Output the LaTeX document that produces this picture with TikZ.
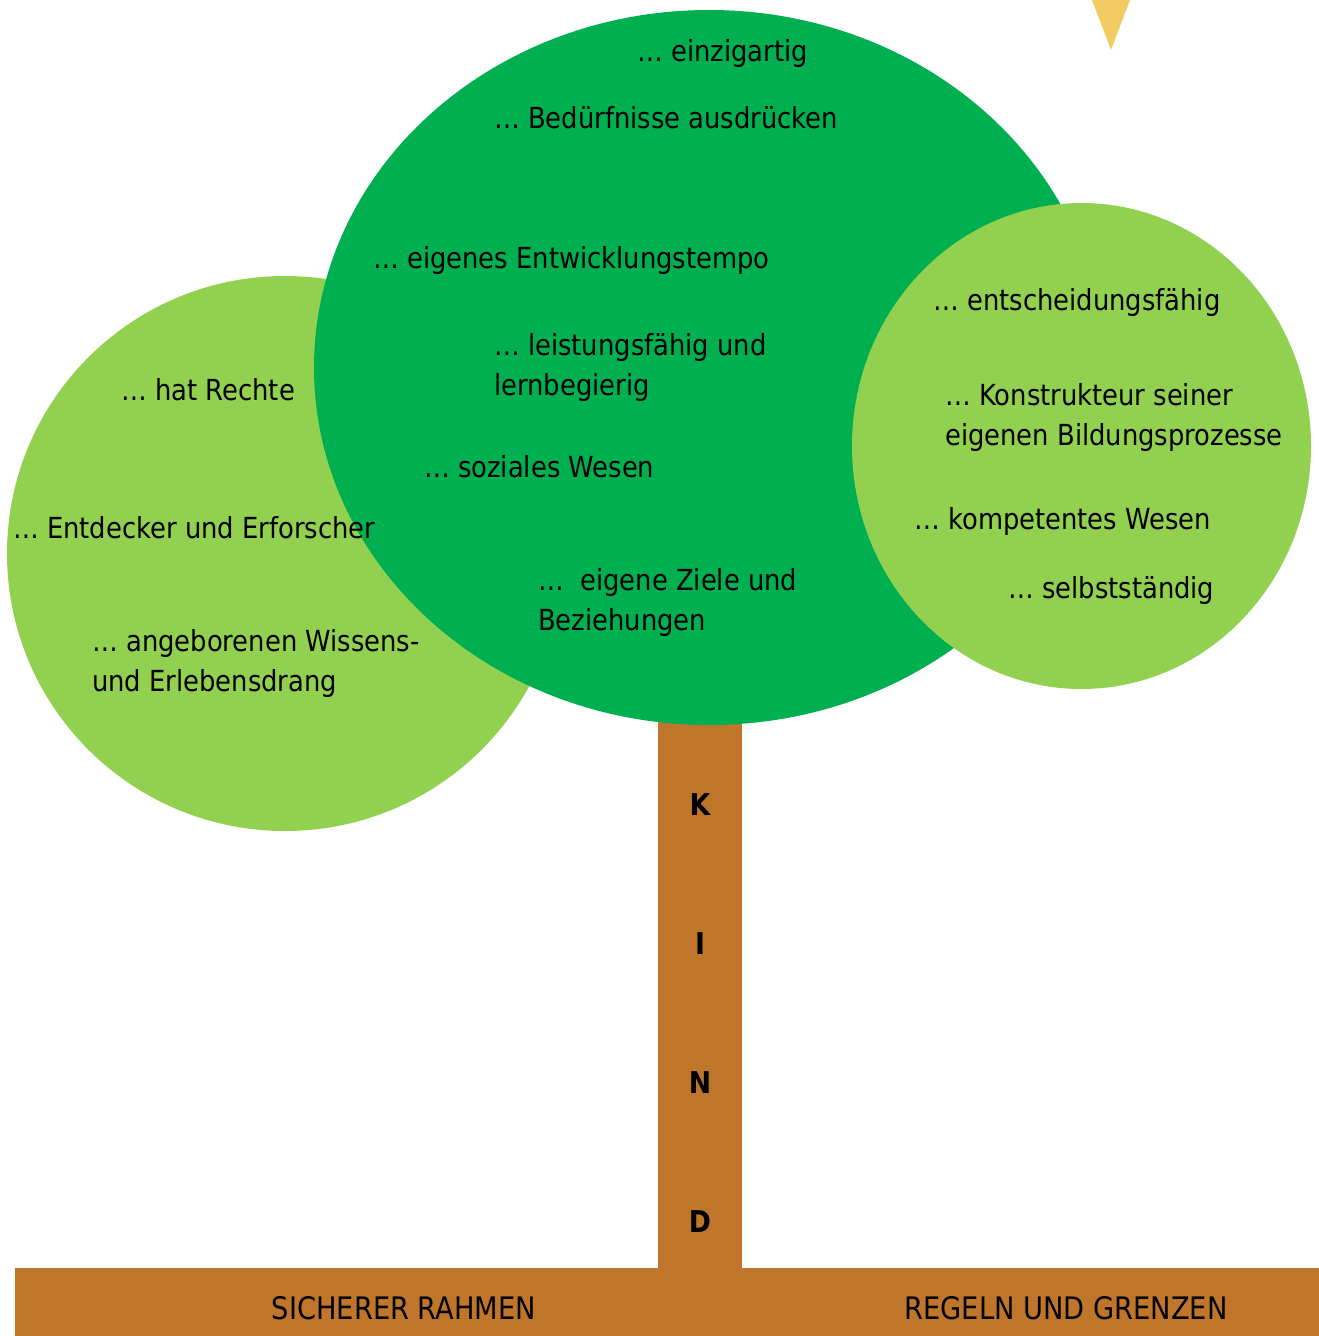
\documentclass[tikz,border=0pt]{standalone}
\usepackage{fontspec}
\setmainfont{DejaVu Sans}[FakeStretch=0.89]
\newfontfamily\barfont{DejaVu Sans}[FakeStretch=0.88]
\definecolor{darkleaf}{HTML}{00B050}
\definecolor{lightleaf}{HTML}{92D050}
\definecolor{bark}{HTML}{C0762A}
\definecolor{sunray}{HTML}{F2CB62}
\tikzset{
  lbl/.style={anchor=base west, inner sep=0pt, align=left, font=\fontsize{29}{40}\selectfont, text=black},
  letter/.style={anchor=base, inner sep=0pt, font=\fontsize{30}{36}\selectfont\bfseries, text=black},
  bartext/.style={anchor=base, inner sep=0pt, font=\barfont\fontsize{31}{36}\selectfont, text=black}
}
\begin{document}
\begin{tikzpicture}[x=1pt,y=-1pt]
\useasboundingbox (0,0) rectangle (1319,1336);
% sun ray
\fill[sunray] (1092,0) -- (1130,0) -- (1111,50) -- cycle;
% trunk and ground
\fill[bark] (658,700) rectangle (742,1270);
\fill[bark] (15,1268) rectangle (1319,1336);
% crowns
\fill[lightleaf] (285,553.5) ellipse [x radius=278pt, y radius=277.5pt];
\fill[darkleaf] (709,367.5) ellipse [x radius=395pt, y radius=357.5pt];
\fill[lightleaf] (1081.5,446) ellipse [x radius=229.5pt, y radius=243pt];
% central crown texts (multi-line nodes are placed at the baseline of their last line)
\node[lbl] (t1) at (637,61) {… einzigartig};
\node[lbl] (t2) at (494,128) {… Bedürfnisse ausdrücken};
\node[lbl] (t3) at (373,268) {… eigenes Entwicklungstempo};
\node[lbl] (t4) at (494,395) {… leistungsfähig und\\lernbegierig};
\node[lbl] (t5) at (424,477) {… soziales Wesen};
\node[lbl] (t6) at (538,630) {…\ \ eigene Ziele und\\Beziehungen};
% left crown texts
\node[lbl] (l1) at (121,400) {… hat Rechte};
\node[lbl] (l2) at (13,538) {… Entdecker und Erforscher};
\node[lbl] (l3) at (92,691) {… angeborenen Wissens-\\und Erlebensdrang};
% right crown texts
\node[lbl] (r1) at (933,310) {… entscheidungsfähig};
\node[lbl] (r2) at (945,445) {… Konstrukteur seiner\\eigenen Bildungsprozesse};
\node[lbl] (r3) at (914,529) {… kompetentes Wesen};
\node[lbl] (r4) at (1008,598) {… selbstständig};
% trunk letters
\node[letter] (k) at (700,815) {K};
\node[letter] (i) at (700,954) {I};
\node[letter] (n) at (700,1093) {N};
\node[letter] (d) at (700,1232) {D};
% ground texts
\node[bartext] (g1) at (404,1319) {SICHERER RAHMEN};
\node[bartext] (g2) at (1066,1319) {REGELN UND GRENZEN};
\end{tikzpicture}
\end{document}
